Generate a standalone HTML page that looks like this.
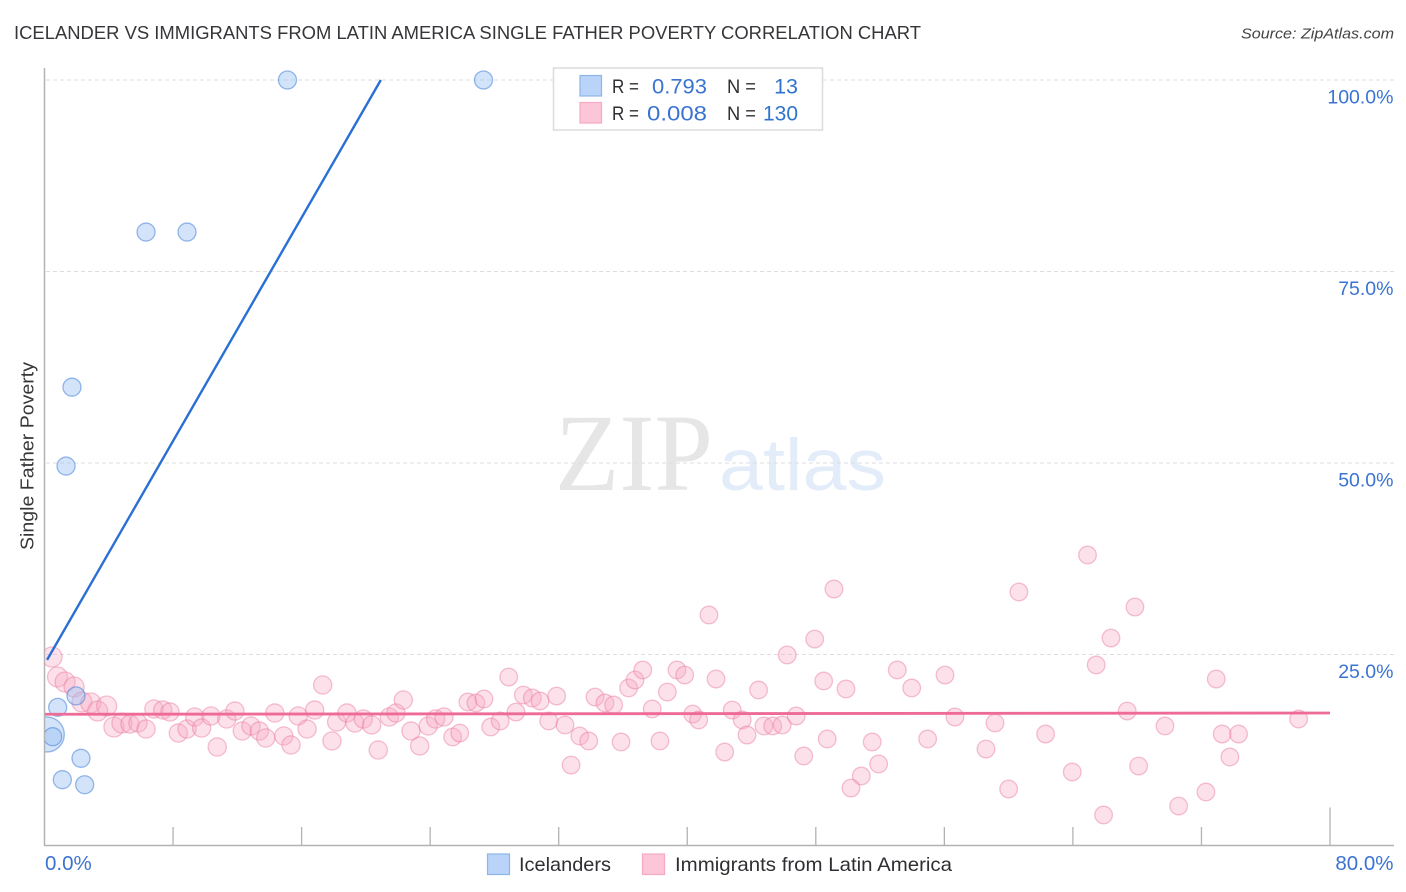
<!DOCTYPE html>
<html lang="en">
<head>
<meta charset="utf-8">
<title>Icelander vs Immigrants from Latin America Single Father Poverty Correlation Chart</title>
<style>
html,body{margin:0;padding:0;background:#fff;}
svg{display:block;font-family:"Liberation Sans",sans-serif;}
</style>
</head>
<body>
<svg id="chart" xmlns="http://www.w3.org/2000/svg" width="1406" height="892" viewBox="0 0 1406 892">
  <defs><clipPath id="plot-clip"><rect x="45" y="60" width="1349" height="786"/></clipPath></defs>
  <rect x="0" y="0" width="1406" height="892" fill="#fff"/>
  <text x="14" y="39" font-size="18.5" fill="#36363a" textLength="907" lengthAdjust="spacingAndGlyphs">ICELANDER VS IMMIGRANTS FROM LATIN AMERICA SINGLE FATHER POVERTY CORRELATION CHART</text>
  <text x="1394" y="38.5" font-size="15" font-style="italic" fill="#444" text-anchor="end" textLength="153" lengthAdjust="spacingAndGlyphs">Source: ZipAtlas.com</text>
  <g>
    <text x="555" y="490" font-family="'Liberation Serif',serif" font-size="110" fill="#e6e6e6" textLength="158" lengthAdjust="spacingAndGlyphs">ZIP</text>
    <text x="719" y="490" font-size="73" fill="#e3ecf9" textLength="167" lengthAdjust="spacingAndGlyphs">atlas</text>
  </g>
  <g id="grid"></g>
  <g id="axes"></g>
  <g id="marks" clip-path="url(#plot-clip)"></g>
  <g id="labels"></g>
  <text transform="translate(33.5,456) rotate(-90)" font-size="18.5" fill="#36363a" text-anchor="middle" textLength="188" lengthAdjust="spacingAndGlyphs">Single Father Poverty</text>

  <g>
    <rect x="553.5" y="68" width="269" height="62" fill="#fff" stroke="#dcdcdc" stroke-width="1.5"/>
    <rect x="580" y="75.5" width="21.5" height="20.5" fill="#b9d4f8" stroke="#8db6e8" stroke-width="1.2"/>
    <rect x="580" y="102.5" width="21.5" height="20.5" fill="#fcc5d8" stroke="#f5a9c3" stroke-width="1.2"/>
    <text x="612" y="93" font-size="19.5" fill="#2f2f33" textLength="27" lengthAdjust="spacingAndGlyphs">R =</text>
    <text x="707" y="93.5" font-size="21.5" fill="#3b73d1" text-anchor="end" textLength="55" lengthAdjust="spacingAndGlyphs">0.793</text>
    <text x="727" y="93" font-size="19.5" fill="#2f2f33" textLength="29" lengthAdjust="spacingAndGlyphs">N =</text>
    <text x="798" y="93.5" font-size="21.5" fill="#2f73cf" text-anchor="end">13</text>
    <text x="612" y="120" font-size="19.5" fill="#2f2f33" textLength="27" lengthAdjust="spacingAndGlyphs">R =</text>
    <text x="707" y="120.5" font-size="21.5" fill="#3b73d1" text-anchor="end" textLength="60" lengthAdjust="spacingAndGlyphs">0.008</text>
    <text x="727" y="120" font-size="19.5" fill="#2f2f33" textLength="29" lengthAdjust="spacingAndGlyphs">N =</text>
    <text x="798" y="120.5" font-size="21.5" fill="#2f73cf" text-anchor="end" textLength="35" lengthAdjust="spacingAndGlyphs">130</text>
  </g>

  <g>
    <rect x="487.5" y="854" width="22" height="20.5" fill="#b9d4f8" stroke="#8db6e8" stroke-width="1.2"/>
    <text x="519" y="871" font-size="19.5" fill="#2f2f33" textLength="92" lengthAdjust="spacingAndGlyphs">Icelanders</text>
    <rect x="642.5" y="854" width="22" height="20.5" fill="#fcc5d8" stroke="#f5a9c3" stroke-width="1.2"/>
    <text x="675" y="871" font-size="19.5" fill="#2f2f33" textLength="277" lengthAdjust="spacingAndGlyphs">Immigrants from Latin America</text>
  </g>
</svg>
<script>
var xTicks = [0, 8, 16, 24, 32, 40, 48, 56, 64, 72, 80];
var xEndLabels = [[0, "0.0%"], [80, "80.0%"]];
var yTicks = [25, 50, 75, 100];
var yTickLabels = ["25.0%", "50.0%", "75.0%", "100.0%"];

var icelanderX = [15.12, 27.32, 6.32, 8.87, 1.71, 1.34, 1.96, 0.82, 0.14, 0.51, 2.27, 1.11, 2.5];
var icelanderY = [100, 100, 80.15, 80.15, 59.9, 49.6, 19.6, 18.1, 14.56, 14.27, 11.45, 8.66, 8.0];
var icelanderWeight = [1, 1, 1, 1, 1, 1, 1, 1, 3.8, 1, 1, 1, 1];

var immigrantX = [0.47,0.81,1.28,1.84,2.33,2.88,3.31,3.87,4.32,4.82,5.32,5.82,6.32,6.81,7.36,7.81,8.33,8.87,9.35,9.78,10.36,10.75,11.34,11.85,12.31,12.85,13.37,13.77,14.33,14.89,15.34,15.79,16.34,16.81,17.31,17.89,18.18,18.82,19.32,19.84,20.36,20.77,21.46,21.87,22.33,22.81,23.35,23.88,24.34,24.86,25.4,25.84,26.35,26.85,27.35,27.77,28.36,28.89,29.34,29.8,30.36,30.84,31.87,31.38,32.39,33.31,33.87,32.77,35.88,34.26,34.88,35.42,36.35,36.75,37.23,37.82,38.3,38.76,39.36,39.84,40.34,40.71,41.79,42.8,43.42,42.33,43.72,44.44,44.77,45.32,45.91,46.78,46.22,47.93,47.25,48.49,48.71,49.88,51.51,51.91,50.83,50.19,53.07,53.97,54.96,56.04,56.66,59.15,58.59,60.0,62.3,65.45,66.37,63.96,65.91,67.38,68.09,69.73,70.58,72.28,72.92,73.29,74.31,73.77,78.05,41.35,49.13,60.64,64.91,67.86];
var immigrantY = [24.67,22.06,21.41,20.76,18.8,18.67,17.62,18.28,15.54,16.06,15.93,16.06,15.27,17.89,17.75,17.49,14.75,15.27,16.84,15.4,16.97,12.92,16.58,17.62,15.01,15.67,15.01,14.1,17.36,14.36,13.19,16.97,15.27,17.75,21.02,13.71,16.19,17.36,16.06,16.58,15.8,12.53,16.84,17.36,19.06,15.01,13.06,15.67,16.58,16.84,14.23,14.75,18.8,18.67,19.19,15.54,16.32,22.06,17.49,19.71,19.32,18.93,19.58,16.32,15.8,14.36,13.71,10.57,13.58,19.45,18.67,18.41,20.63,21.67,22.98,17.89,13.71,20.1,22.98,22.32,17.23,16.45,21.8,17.75,16.45,12.27,14.49,20.37,15.67,15.67,15.8,16.97,24.94,27.02,11.75,21.54,13.97,20.5,13.58,10.71,9.14,7.57,22.98,20.63,13.97,22.32,16.84,16.06,12.66,7.44,14.62,23.63,27.15,9.66,4.05,17.62,10.44,15.67,5.22,7.05,21.8,14.62,14.62,11.62,16.58,30.16,33.55,33.16,37.99,31.2];

var icelanderTrendX = [0.16, 20.93];
var icelanderTrendY = [24.3, 100];
var immigrantTrendX = [0, 80];
var immigrantTrendY = [17.2, 17.36];

var NS = 'http://www.w3.org/2000/svg';
function xScale(v) { return 44.5 + v * (1330 - 44.5) / 80; }
function yScale(v) { return 846 - v * 7.66; }
function make(tag, attrs, parent) {
  var el = document.createElementNS(NS, tag);
  for (var k in attrs) el.setAttribute(k, attrs[k]);
  parent.appendChild(el);
  return el;
}
var grid = document.getElementById('grid');
var axes = document.getElementById('axes');
var marks = document.getElementById('marks');
var labels = document.getElementById('labels');

yTicks.forEach(function (t, i) {
  var line = make('line', {x1: 46, x2: 1394, y1: yScale(t), y2: yScale(t), stroke: '#dedede', 'stroke-width': 1, 'stroke-dasharray': '4 3'}, grid);
  
  
  var lab = make('text', {x: 1393.5, y: yScale(t) + 23.5, 'font-size': 19.5, fill: '#3b73d1', 'text-anchor': 'end'}, labels);
  lab.textContent = yTickLabels[i];
  
  
});

var yAxis = make('line', {x1: 44.5, x2: 44.5, y1: 68, y2: 846, stroke: '#b3b3b3', 'stroke-width': 1.5}, axes);


var xAxis = make('line', {x1: 44, x2: 1394, y1: 845.5, y2: 845.5, stroke: '#b3b3b3', 'stroke-width': 1.5}, axes);



xTicks.forEach(function (t, i) {
  if (i === 0) return;
  var top = i === xTicks.length - 1 ? 807.5 : 827;
  var tick = make('line', {x1: xScale(t), x2: xScale(t), y1: top, y2: 846, stroke: '#b3b3b3', 'stroke-width': 1.3}, axes);
  
  
});

xEndLabels.forEach(function (d, i) {
  var lab = make('text', {x: i === 0 ? xScale(d[0]) + 0.5 : 1393.5, y: 870, 'font-size': 20.5, fill: '#3b73d1', 'text-anchor': i === 0 ? 'start' : 'end'}, labels);
  lab.textContent = d[1];
  
  
});

function immigrantRadius(x) { return x < 5 ? 10 : (x < 25 ? 9.1 : 8.8); }

immigrantX.forEach(function (x, i) {
  var c = make('circle', {cx: xScale(x), cy: yScale(immigrantY[i]), r: immigrantRadius(x), fill: 'rgba(248,170,196,0.36)', stroke: 'rgba(233,120,158,0.45)', 'stroke-width': 1.3}, marks);
  
  
});

icelanderX.forEach(function (x, i) {
  var c = make('circle', {cx: xScale(x), cy: yScale(icelanderY[i]), r: 9 * Math.sqrt(icelanderWeight[i]), fill: 'rgba(150,190,243,0.42)', stroke: 'rgba(70,130,215,0.55)', 'stroke-width': 1.3}, marks);
  
  
});

var pinkLine = make('line', {x1: xScale(immigrantTrendX[0]), y1: yScale(immigrantTrendY[0]), x2: xScale(immigrantTrendX[1]), y2: yScale(immigrantTrendY[1]), stroke: '#ee6b97', 'stroke-width': 2.8}, marks);


var blueLine = make('line', {x1: xScale(icelanderTrendX[0]), y1: yScale(icelanderTrendY[0]), x2: xScale(icelanderTrendX[1]), y2: yScale(icelanderTrendY[1]), stroke: '#2a6fd4', 'stroke-width': 2.4}, marks);


</script>
</body>
</html>
